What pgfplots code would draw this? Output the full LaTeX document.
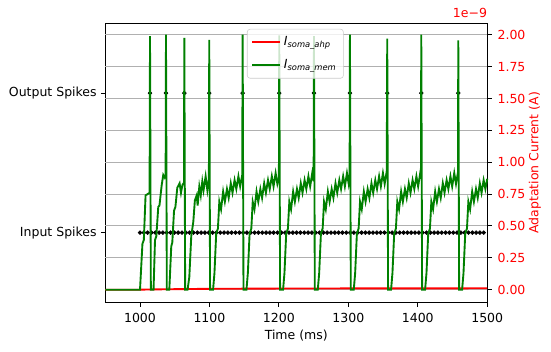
\documentclass[border=0pt]{standalone}
\usepackage{fontspec}
\setmainfont{DejaVu Sans}
\usepackage{pgfplots}
\pgfplotsset{compat=1.18}
\definecolor{gridgray}{HTML}{B0B0B0}
\definecolor{mplgreen}{rgb}{0,0.5,0}
\newcommand{\mplfont}{\fontsize{9pt}{10.8pt}\selectfont}
\begin{document}
\mplfont
\begin{tikzpicture}
\begin{axis}[
  at={(0pt,0pt)}, anchor=south west,
  scale only axis, width=275pt, height=200.9pt,
  xmin=950, xmax=1500, ymin=-0.5, ymax=1.5,
  xtick={1000,1100,1200,1300,1400,1500},
  ytick={0,1}, yticklabels={Input Spikes,Output Spikes},
  xtick pos=lower, ytick pos=left, tick align=outside,
  major tick length=3.15pt,
  every tick/.style={black, line width=0.72pt},
  axis line style={line width=0.72pt},
  xlabel={Time (ms)},
  xlabel style={at={(axis description cs:0.5,0)}, anchor=north, inner sep=0pt, yshift=-19.5pt},
  xticklabel style={anchor=north, inner sep=0pt, yshift=-4.35pt},
  yticklabel style={anchor=east, inner sep=0pt, xshift=-2.85pt},
  /pgf/number format/assume math mode=true,
  /pgf/number format/1000 sep={},
  tick label style={font=\mplfont},
  label style={font=\mplfont},
]
\addplot[only marks, mark=*, mark size=1.4pt, black] coordinates {
(1000,0) (1005.5,0) (1011,0) (1016.5,0) (1022,0) (1027.5,0) (1033,0) (1038.5,0) (1044,0) (1049.5,0)
(1055,0) (1060.5,0) (1066,0) (1071.5,0) (1077,0) (1082.5,0) (1088,0) (1093.5,0) (1099,0) (1104.5,0)
(1110,0) (1115.5,0) (1121,0) (1126.5,0) (1132,0) (1137.5,0) (1143,0) (1148.5,0) (1154,0) (1159.5,0)
(1165,0) (1170.5,0) (1176,0) (1181.5,0) (1187,0) (1192.5,0) (1198,0) (1203.5,0) (1209,0) (1214.5,0)
(1220,0) (1225.5,0) (1231,0) (1236.5,0) (1242,0) (1247.5,0) (1253,0) (1258.5,0) (1264,0) (1269.5,0)
(1275,0) (1280.5,0) (1286,0) (1291.5,0) (1297,0) (1302.5,0) (1308,0) (1313.5,0) (1319,0) (1324.5,0)
(1330,0) (1335.5,0) (1341,0) (1346.5,0) (1352,0) (1357.5,0) (1363,0) (1368.5,0) (1374,0) (1379.5,0)
(1385,0) (1390.5,0) (1396,0) (1401.5,0) (1407,0) (1412.5,0) (1418,0) (1423.5,0) (1429,0) (1434.5,0)
(1440,0) (1445.5,0) (1451,0) (1456.5,0) (1462,0) (1467.5,0) (1473,0) (1478.5,0) (1484,0) (1489.5,0)
(1495,0)
};
\addplot[only marks, mark=*, mark size=1.4pt, black] coordinates {
(1014.4,1) (1037.4,1) (1063.8,1) (1099.7,1) (1147.8,1) (1200.5,1) (1250.5,1) (1302.3,1) (1356,1) (1405,1) (1458.3,1)
};
\end{axis}
\begin{axis}[
  at={(0pt,0pt)}, anchor=south west,
  scale only axis, width=275pt, height=200.9pt,
  xmin=950, xmax=1500, ymin=-0.0995, ymax=2.0895,
  clip=false,
  axis x line=none, axis y line*=right,
  ytick={0,0.25,0.5,0.75,1,1.25,1.5,1.75,2},
  tick align=outside, major tick length=3.15pt,
  every tick/.style={black, line width=0.72pt},
  axis line style={line width=0.72pt},
  ymajorgrids, major grid style={gridgray, line width=0.72pt},
  scaled y ticks=false,
  yticklabel style={red, anchor=west, inner sep=0pt, xshift=4.1pt, /pgf/number format/.cd, fixed, fixed zerofill, precision=2},
  /pgf/number format/assume math mode=true,
  tick label style={font=\mplfont},
  legend cell align=left,
  legend style={at={(0.371,0.98)}, anchor=north west, draw=black!20, fill=white,
    fill opacity=0.8, text opacity=1, draw opacity=1, rounded corners=2pt,
    inner xsep=3pt, inner ysep=3.5pt, row sep=4.5pt, font=\mplfont},
  legend image code/.code={\draw[#1] (0pt,0pt) -- (20pt,0pt);},
]
\addplot[red, line width=1.35pt] coordinates {
(950,0) (1000,0) (1014,0.002) (1100,0.007) (1200,0.009) (1300,0.01) (1500,0.011)
};
\addlegendentry{\textit{I}\textsubscript{\textit{soma\_ahp}}}
\addplot[mplgreen, line width=1.35pt] coordinates {
(950,0) (1000,0) (1003.5,0.36) (1005.5,0.39) (1008,0.74) (1011,0.75) (1013.8,0.76) (1014.4,1.99)
(1015.6,0) (1019.5,0) (1021.6,0.39) (1023.5,0.42) (1026.3,0.65) (1028,0.66) (1031.2,0.82) (1033.5,0.9) (1035.5,0.88) (1036.9,0.9) (1037.4,2.0)
(1038.6,0) (1042.2,0) (1045,0.34) (1046.5,0.37) (1049,0.62) (1051,0.65) (1053.7,0.8) (1057,0.835) (1059,0.76) (1061,0.82) (1063.3,0.84) (1063.8,1.975)
(1065,0) (1068.5,0) (1071,0.1) (1073.8,0.42) (1076.7,0.53) (1079,0.7) (1081.6,0.74) (1083,0.66) (1085.4,0.81) (1087.5,0.74) (1089.7,0.85) (1091.5,0.78) (1094.5,0.89) (1097,0.78) (1099.2,0.87) (1099.7,1.96)
(1100.9,0) (1105.2,0) (1107.2,0.13) (1109.7,0.44) (1112.2,0.48) (1114.2,0.69) (1116.7,0.63) (1119.7,0.77) (1122.2,0.69) (1125.2,0.79) (1127.7,0.72) (1130.7,0.835) (1133.2,0.76) (1136.2,0.86) (1138.7,0.79) (1141.7,0.89) (1144.2,0.81) (1147.2,0.9) (1147.8,2.0)
(1149,0) (1153.3,0) (1155.3,0.13) (1157.8,0.44) (1160.3,0.48) (1162.3,0.69) (1164.8,0.63) (1167.8,0.77) (1170.3,0.69) (1173.3,0.79) (1175.8,0.72) (1178.8,0.835) (1181.3,0.76) (1184.3,0.86) (1186.8,0.79) (1189.8,0.89) (1192.3,0.81) (1195.3,0.915) (1197.8,0.83) (1200,0.88) (1200.5,1.995)
(1201.7,0) (1206,0) (1208,0.13) (1210.5,0.44) (1213,0.48) (1215,0.69) (1217.5,0.63) (1220.5,0.77) (1223,0.69) (1226,0.79) (1228.5,0.72) (1231.5,0.835) (1234,0.76) (1237,0.86) (1239.5,0.79) (1242.5,0.89) (1245,0.81) (1248,0.915) (1250,0.85) (1250.5,1.99)
(1251.7,0) (1256,0) (1258,0.13) (1260.5,0.44) (1263,0.48) (1265,0.69) (1267.5,0.63) (1270.5,0.77) (1273,0.69) (1276,0.79) (1278.5,0.72) (1281.5,0.835) (1284,0.76) (1287,0.86) (1289.5,0.79) (1292.5,0.89) (1295,0.81) (1298,0.915) (1300.5,0.83) (1301.8,0.88) (1302.3,2.0)
(1303.5,0) (1307.8,0) (1309.8,0.13) (1312.3,0.44) (1314.8,0.48) (1316.8,0.69) (1319.3,0.63) (1322.3,0.77) (1324.8,0.69) (1327.8,0.79) (1330.3,0.72) (1333.3,0.835) (1335.8,0.76) (1338.8,0.86) (1341.3,0.79) (1344.3,0.89) (1346.8,0.81) (1349.8,0.915) (1352.3,0.83) (1355.3,0.93) (1356,1.97)
(1357.2,0) (1361.5,0) (1363.5,0.13) (1366,0.44) (1368.5,0.48) (1370.5,0.69) (1373,0.63) (1376,0.77) (1378.5,0.69) (1381.5,0.79) (1384,0.72) (1387,0.835) (1389.5,0.76) (1392.5,0.86) (1395,0.79) (1398,0.89) (1400.5,0.81) (1403.5,0.915) (1404.5,0.87) (1405,2.0)
(1406.2,0) (1410.5,0) (1412.5,0.13) (1415,0.44) (1417.5,0.48) (1419.5,0.69) (1422,0.63) (1425,0.77) (1427.5,0.69) (1430.5,0.79) (1433,0.72) (1436,0.835) (1438.5,0.76) (1441.5,0.86) (1444,0.79) (1447,0.89) (1449.5,0.81) (1452.5,0.915) (1455,0.83) (1457.8,0.92) (1458.3,1.955)
(1459.5,0) (1463.8,0) (1465.8,0.13) (1468.3,0.44) (1470.8,0.48) (1472.8,0.69) (1475.3,0.63) (1478.3,0.77) (1480.8,0.69) (1483.8,0.79) (1486.3,0.72) (1489.3,0.835) (1491.8,0.76) (1494.8,0.86) (1497.3,0.79) (1500,0.87)
};
\addlegendentry{\textit{I}\textsubscript{\textit{soma\_mem}}}
\node[red, anchor=south east, inner sep=0pt, font=\mplfont] at (rel axis cs:1,1) [yshift=3.6pt] {1e−9};
\node[xshift=34.3pt, rotate=90, red, anchor=center, inner sep=0pt, font=\mplfont] at (rel axis cs:1,0.5) {Adaptation Current (A)};
\end{axis}
\pgfresetboundingbox
\path (-75.8pt,-35.1pt) rectangle (320.9pt,217.7pt);
\end{tikzpicture}
\end{document}
